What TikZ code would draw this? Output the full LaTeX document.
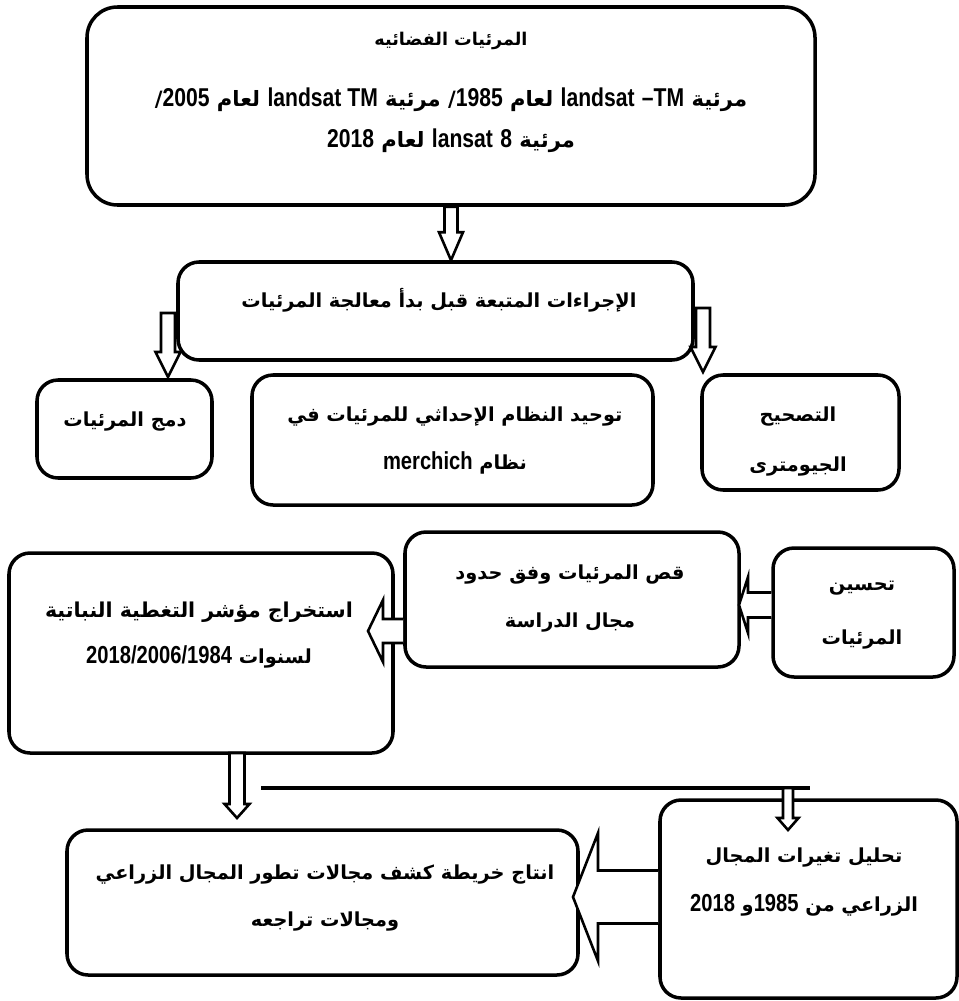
\documentclass[tikz,border=0pt]{standalone}
\usepackage{fontspec}
\usetikzlibrary{calc,fit}
\TeXXeTstate=1
\newfontfamily\arabicfont[Script=Arabic]{DejaVu Sans}
\newfontfamily\latinfont[FakeStretch=0.82]{Liberation Sans}
\newcommand{\latsize}{21}
\newcommand{\lat}[1]{\beginL{\latinfont\bfseries\fontsize{\latsize}{\latsize}\selectfont #1}\endL}
% hollow block arrows: start, tip, shaft half width, head half width, head length
\newcommand{\downblock}[5]{\draw[blockarrow] ($(#2|-#1)+(-#3,0)$) -- ($(#2)+(-#3,-#5)$) -- ($(#2)+(-#4,-#5)$) -- (#2) -- ($(#2)+(#4,-#5)$) -- ($(#2)+(#3,-#5)$) -- ($(#2|-#1)+(#3,0)$) -- cycle;}
\newcommand{\leftblock}[5]{\draw[blockarrow] ($(#1|-#2)+(0,-#3)$) -- ($(#2)+(#5,-#3)$) -- ($(#2)+(#5,-#4)$) -- (#2) -- ($(#2)+(#5,#4)$) -- ($(#2)+(#5,#3)$) -- ($(#1|-#2)+(0,#3)$);}
\tikzset{
  box/.style={draw, line width=3pt, rounded corners=18pt, inner sep=0pt},
  blockarrow/.style={draw, line width=2.2pt, fill=white, line join=miter},
  txt/.style={font=\arabicfont\bfseries\fontsize{16.5}{20}\selectfont, inner sep=0pt},
  bigtxt/.style={txt, font=\arabicfont\bfseries\fontsize{18}{21}\selectfont},
}
\begin{document}
\begin{tikzpicture}[x=0.03cm, y=-0.03cm]
\useasboundingbox (0,0) rectangle (959,1001);

\node[box, rounded corners=26pt, fit={(87,7) (815,205)}] (images) {};
\node[box, fit={(178,262) (693,360)}] (steps) {};
\node[box, fit={(37,380) (212,478)}] (merge) {};
\node[box, fit={(252,375) (653,505)}] (unify) {};
\node[box, fit={(702,375) (899,490)}] (geocorr) {};
\node[box, fit={(405,532) (739,667)}] (clip) {};
\node[box, fit={(773,548) (954,677)}] (enhance) {};
\node[box, fit={(9,553) (393,753)}] (ndvi) {};
\node[box, fit={(660,800) (957,998)}] (change) {};
\node[box, fit={(67,830) (578,975)}] (mapout) {};

% texts
\node[txt, font=\arabicfont\bfseries\fontsize{15}{18}\selectfont] (imagesA) at (451,41) {\beginR المرئيات الفضائيه\endR};
\node[bigtxt] (imagesB) at (451,100) {\renewcommand{\latsize}{22}\beginR مرئية  \lat{TM}\lat{–} \lat{landsat} لعام \lat{1985}/ مرئية \lat{landsat TM} لعام \lat{2005}/\endR};
\node[bigtxt] (imagesC) at (451,141) {\renewcommand{\latsize}{22}\beginR مرئية \lat{8} \lat{lansat} لعام \lat{2018}\endR};
\node[txt] (stepsA) at (439,300) {\beginR الإجراءات المتبعة قبل بدأ معالجة المرئيات\endR};
\node[txt] (mergeA) at (125,422) {\beginR دمج المرئيات\endR};
\node[txt] (unifyA) at (455,417) {\beginR توحيد النظام الإحداثي للمرئيات في\endR};
\node[txt] (unifyB) at (455,463) {\beginR نظام \lat{merchich}\endR};
\node[txt] (geocorrA) at (798,417) {\beginR التصحيح\endR};
\node[txt] (geocorrB) at (798,467) {\beginR الجيومترى\endR};
\node[txt] (clipA) at (570,575) {\beginR قص المرئيات وفق حدود\endR};
\node[txt] (clipB) at (570,623) {\beginR مجال الدراسة\endR};
\node[txt] (enhanceA) at (862,588) {\beginR تحسين\endR};
\node[txt] (enhanceB) at (862,640) {\beginR المرئيات\endR};
\node[txt, font=\arabicfont\bfseries\fontsize{17.5}{20}\selectfont] (ndviA) at (199,612) {\beginR استخراج مؤشر التغطية النباتية\endR};
\node[txt] (ndviB) at (199,657) {\beginR لسنوات \lat{2018/2006/1984}\endR};
\node[txt] (changeA) at (804,858) {\beginR تحليل تغيرات المجال\endR};
\node[txt] (changeB) at (804,905) {\beginR الزراعي من \lat{1985}و \lat{2018}\endR};
\node[txt] (mapoutA) at (325,875) {\beginR انتاج خريطة كشف مجالات تطور المجال الزراعي\endR};
\node[txt] (mapoutB) at (325,922) {\beginR ومجالات تراجعه\endR};

% arrows
\coordinate (stepsL) at (168,313);
\coordinate (mergeIn) at (168,377);
\coordinate (stepsR) at (703,308);
\coordinate (geoIn) at (703,372);
\coordinate (ndviOut) at (237,753);
\coordinate (mapIn) at (237,818);
\coordinate (barL) at (261,788);
\coordinate (barR) at (810,788);
\coordinate (barOut) at (788,788);
\coordinate (changeIn) at (788,830);
\coordinate (clipIn) at (739,605);
\coordinate (ndviIn) at (368,631);
\coordinate (mapoutIn) at (573,897);

\downblock{images.south}{images.south |- steps.north}{6.5}{12}{28}
\downblock{stepsL}{mergeIn}{7}{12.5}{25}
\downblock{stepsR}{geoIn}{7}{12.5}{25}
\leftblock{enhance.west}{clipIn}{12.5}{28}{9}
\leftblock{clip.west}{ndviIn}{12}{31}{15}
\downblock{ndviOut}{mapIn}{7.5}{12.5}{14}
\draw[line width=2.6pt] (barL) -- (barR);
\downblock{barOut}{changeIn}{5}{10.5}{12}
\leftblock{change.west}{mapoutIn}{26.5}{64}{25}

\end{tikzpicture}
\end{document}
